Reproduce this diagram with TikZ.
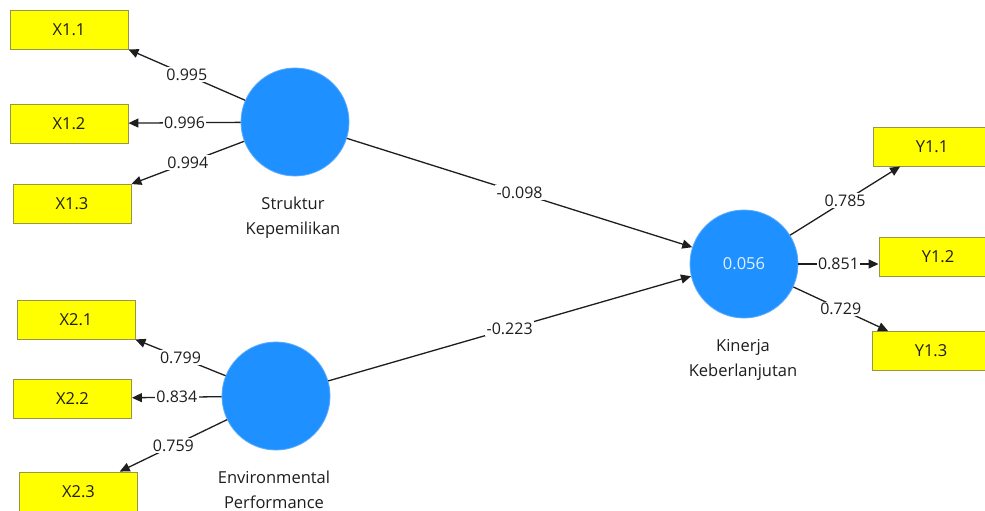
\documentclass[tikz,border=0pt]{standalone}
\usepackage{fontspec}
\setmainfont{Open Sans}
\usetikzlibrary{arrows.meta,calc}
\definecolor{lvblue}{RGB}{30,144,255}
\definecolor{lvedge}{RGB}{90,170,250}
\definecolor{indfill}{RGB}{255,255,0}
\definecolor{indedge}{RGB}{150,150,70}
\definecolor{txt}{RGB}{30,30,30}
\begin{document}
\begin{tikzpicture}[x=1pt,y=-1pt,
  ind/.style={draw=indedge,line width=0.9pt,fill=indfill,minimum width=118pt,minimum height=39pt,inner sep=0pt,font=\fontsize{16.5}{18}\selectfont,text=txt},
  lv/.style={circle,fill=lvblue,draw=lvedge,line width=0.8pt,minimum size=108pt,inner sep=0pt},
  lvname/.style={align=center,font=\fontsize{16.5}{24.5}\selectfont,text=txt},
  path/.style={draw=txt,line width=1.3pt,-{Triangle[length=10pt,width=9pt]}},
  coef/.style={midway,fill=white,inner sep=1.5pt,font=\fontsize{16}{18}\selectfont,text=txt}]
\useasboundingbox (0,0) rectangle (985,511);
\clip (0,0) rectangle (985,511);
\fill[white] (0,0) rectangle (985,511);
% indicators
\node[ind] (x11) at (69,29.5) {X1.1};
\node[ind] (x12) at (69,123.5) {X1.2};
\node[ind] (x13) at (72,204) {X1.3};
\node[ind] (x21) at (76,319.5) {X2.1};
\node[ind] (x22) at (72.5,398.5) {X2.2};
\node[ind] (x23) at (78.5,491.5) {X2.3};
\node[ind] (y11) at (932,146.5) {Y1.1};
\node[ind] (y12) at (938,257) {Y1.2};
\node[ind] (y13) at (931,351) {Y1.3};
% latent variables
\node[lv] (sk) at (295,122) {};
\node[lv] (ep) at (276,396) {};
\node[lv,text={rgb,255:red,225;green,240;blue,255},font=\fontsize{16.5}{18}\selectfont] (kin) at (744,264) {0.056};
\node[lvname] (skn) at (293,217.5) {Struktur\\Kepemilikan};
\node[lvname] (epn) at (274,490) {Environmental\\Performance};
\node[lvname] (kinn) at (743,360) {Kinerja\\Keberlanjutan};
% outer loadings
\draw[path] (sk) -- (x11.south east) node[coef] {0.995};
\draw[path] (sk) -- (x12) node[coef] {0.996};
\draw[path] (sk) -- (x13.north east) node[coef] {0.994};
\draw[path] (ep) -- (x21.south east) node[coef] {0.799};
\draw[path] (ep) -- (x22) node[coef] {0.834};
\draw[path] (ep) -- (x23) node[coef] {0.759};
\draw[path] (kin) -- (y11) node[coef] {0.785};
\draw[path] (kin.east) -- (kin.east -| y12.west) node[coef] {0.851};
\draw[path] (kin) -- (y13) node[coef] {0.729};
% inner paths
\draw[path] (sk) -- (kin.162.9) node[coef] {-0.098};
\draw[path] (ep) -- (kin.193.5) node[coef] {-0.223};
\end{tikzpicture}
\end{document}
